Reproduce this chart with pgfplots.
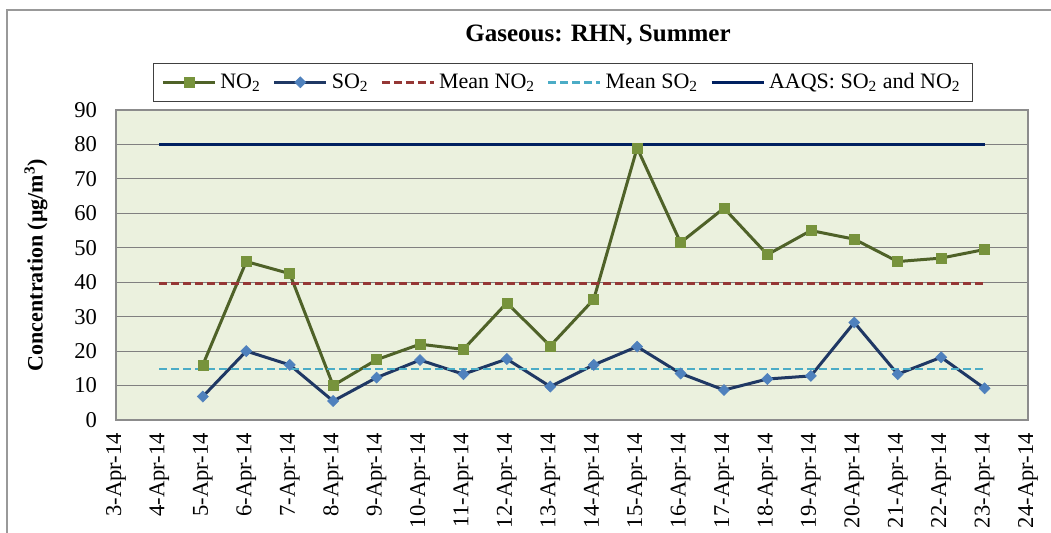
\documentclass[border=0pt]{standalone}
\usepackage{fontspec}
\setmainfont{Liberation Serif}
\usepackage{pgfplots}
\pgfplotsset{compat=1.18}
\definecolor{plotbg}{HTML}{EBF1DE}
\definecolor{noline}{HTML}{4F6228}
\definecolor{nomark}{HTML}{77933C}
\definecolor{soline}{HTML}{1F3864}
\definecolor{somark}{HTML}{4F81BD}
\definecolor{meanno}{HTML}{953735}
\definecolor{meanso}{HTML}{4BACC6}
\definecolor{aaqs}{HTML}{002060}
\begin{document}
\begin{tikzpicture}
\path[use as bounding box] (0,0) rectangle (525.5pt,266.5pt);
\draw[black!40, line width=0.8pt] (3.5pt,-2pt) -- (3.5pt,261.5pt) -- (530pt,261.5pt);
\node[font=\bfseries\fontsize{12.5}{15}\selectfont] at (299pt,249pt) {Gaseous: RHN, Summer};
\begin{axis}[
  at={(58pt,56.5pt)}, anchor=south west,
  scale only axis, width=456pt, height=155pt,
  xmin=3, xmax=24, ymin=0, ymax=90,
  xtick={3,...,24},
  xticklabels={3-Apr-14,4-Apr-14,5-Apr-14,6-Apr-14,7-Apr-14,8-Apr-14,9-Apr-14,10-Apr-14,11-Apr-14,12-Apr-14,13-Apr-14,14-Apr-14,15-Apr-14,16-Apr-14,17-Apr-14,18-Apr-14,19-Apr-14,20-Apr-14,21-Apr-14,22-Apr-14,23-Apr-14,24-Apr-14},
  ytick={0,10,...,90},
  /pgf/number format/assume math mode=true,
  major tick length=0pt,
  axis background/.style={fill=plotbg},
  axis line style={draw=black!45, line width=0.7pt},
  ymajorgrids, major grid style={draw=black!50, line width=0.5pt},
  xticklabel style={rotate=90, anchor=east, font=\fontsize{11.3}{13}\selectfont},
  yticklabel style={font=\fontsize{11.3}{13}\selectfont},
  xticklabel shift=3pt, yticklabel shift=6pt,
  ylabel={Concentration (μg/m\textsuperscript{3})},
  ylabel style={at={(axis description cs:-0.0877,0.5)}, anchor=center, font=\bfseries\fontsize{11}{13}\selectfont},
  legend columns=5,
  legend style={at={(axis description cs:0.5,1)}, anchor=south, xshift=-4.5pt, yshift=4pt,
    draw=black!75, line width=0.6pt, fill=white, font=\fontsize{11}{13}\selectfont,
    inner xsep=4pt, inner ysep=3pt,
    /tikz/every even column/.append style={column sep=4pt}},
  legend image code/.code={\draw[mark repeat=2,mark phase=2,#1] plot coordinates {(0pt,0pt) (13pt,0pt) (26pt,0pt)};},
  clip=false,
]
\addplot[noline, line width=1.5pt, mark=square*, mark size=2.5pt, mark options={fill=nomark, draw=nomark, line width=0.3pt}] coordinates {
(5,16) (6,46) (7,42.5) (8,10) (9,17.5) (10,22) (11,20.5) (12,34) (13,21.5) (14,35) (15,79) (16,51.5) (17,61.5) (18,48) (19,55) (20,52.5) (21,46) (22,47) (23,49.5)};
\addlegendentry{NO\textsubscript{2}}
\addplot[soline, line width=1.5pt, mark=square*, mark size=1.95pt, mark options={rotate=45, fill=somark, draw=somark, line width=0.3pt}] coordinates {
(5,6.8) (6,20) (7,16) (8,5.5) (9,12.3) (10,17.4) (11,13.3) (12,17.7) (13,9.7) (14,16) (15,21.3) (16,13.5) (17,8.7) (18,11.9) (19,12.8) (20,28.3) (21,13.3) (22,18.2) (23,9.2)};
\addlegendentry{SO\textsubscript{2}}
\addplot[meanno, line width=1.25pt, dash pattern=on 4pt off 2pt] coordinates {(4,39.7) (23,39.7)};
\addlegendentry{Mean NO\textsubscript{2}}
\addplot[meanso, line width=1.25pt, dash pattern=on 4pt off 2pt] coordinates {(4,14.8) (23,14.8)};
\addlegendentry{Mean SO\textsubscript{2}}
\addplot[aaqs, line width=1.5pt] coordinates {(4,80) (23,80)};
\addlegendentry{AAQS: SO\textsubscript{2} and NO\textsubscript{2}}
\end{axis}
\end{tikzpicture}
\end{document}
